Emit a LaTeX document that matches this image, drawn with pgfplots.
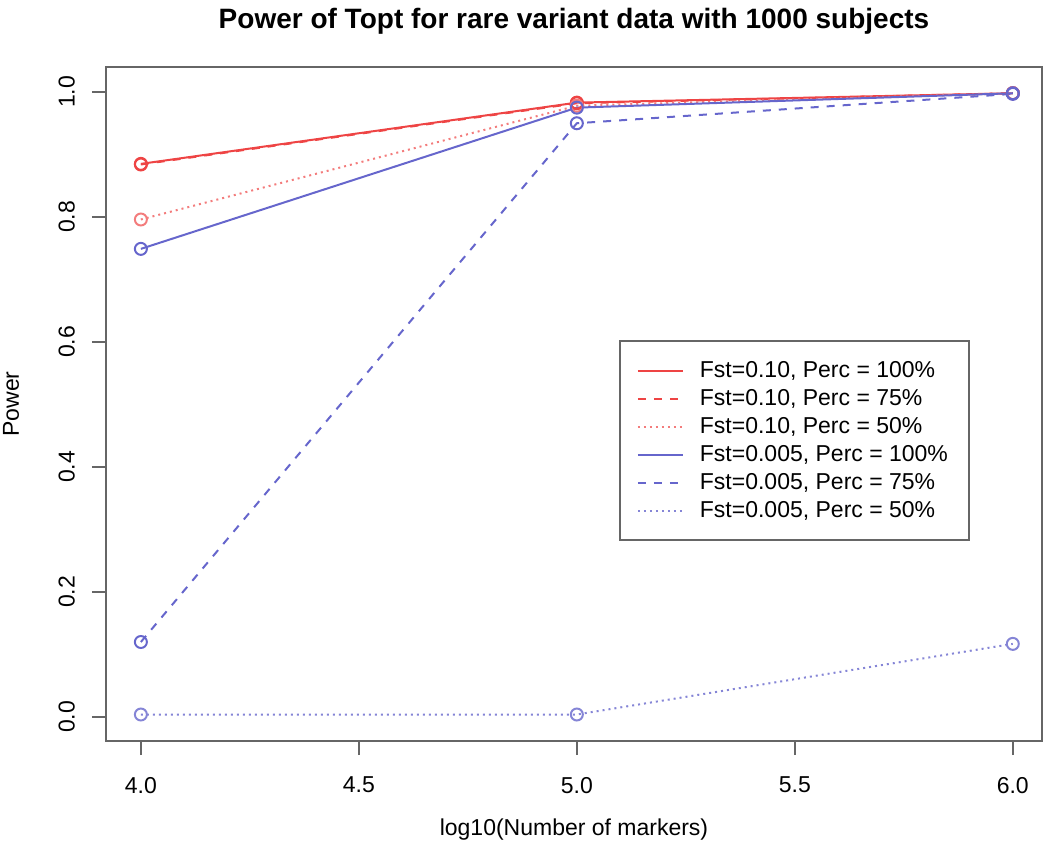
\documentclass[border=0pt]{standalone}
\usepackage{fontspec}
\setmainfont{Liberation Sans}
\usepackage{pgfplots}
\pgfplotsset{compat=1.18}
\definecolor{rred}{HTML}{EE4444}
\definecolor{rblue}{HTML}{6666CC}
\definecolor{boxgray}{HTML}{666666}
\begin{document}
\begin{tikzpicture}
\begin{axis}[
    at={(0pt,0pt)}, anchor=south west,
    scale only axis, width=468pt, height=337pt,
    xmin=3.92, xmax=6.067, ymin=-0.0384, ymax=1.04,
    xtick={4,4.5,5,5.5,6}, ytick={0,0.2,0.4,0.6,0.8,1},
    /pgf/number format/assume math mode=true,
    /pgf/number format/.cd, fixed, fixed zerofill, precision=1, /pgfplots/.cd,
    tick label style={font=\fontsize{11.5}{13}\selectfont},
    yticklabel style={rotate=90, anchor=south},
    xticklabel shift=7.5pt, yticklabel shift=5pt,
    tick align=outside, xtick pos=left, ytick pos=left,
    major tick length=7pt,
    axis line style={line width=1.2pt, color=boxgray},
    tick style={line width=1.2pt, color=boxgray},
    title={Power of Topt for rare variant data with 1000 subjects},
    title style={at={(axis description cs:0.5,1.0504)}, anchor=center,
        font=\bfseries\fontsize{14}{16}\selectfont},
    xlabel={log10(Number of markers)},
    xlabel style={at={(axis description cs:0.5,-0.132)}, anchor=center,
        font=\fontsize{11.5}{13}\selectfont},
    ylabel={Power},
    ylabel style={at={(axis description cs:-0.1015,0.5)}, anchor=center, rotate=0,
        font=\fontsize{11.5}{13}\selectfont},
    legend cell align=left,
    legend style={at={(0.548,0.595)}, anchor=north west, draw=boxgray, line width=1pt,
        inner xsep=8.5pt, inner ysep=8pt, column sep=6pt, row sep=0.5pt,
        font=\fontsize{11.5}{13}\selectfont},
    legend image code/.code={\draw[#1] (0pt,0pt) -- (22.5pt,0pt);},
    every axis plot/.append style={line width=1pt, mark=o, mark size=3pt},
]
\addplot[rred, solid, mark options={solid, fill=white}] coordinates {(4,0.885) (5,0.983) (6,0.998)};
\addlegendentry{Fst=0.10, Perc = 100\%}
\addplot[rred, dash pattern=on 4pt off 4pt, mark options={solid, fill=white}] coordinates {(4,0.884) (5,0.982) (6,0.998)};
\addlegendentry{Fst=0.10, Perc = 75\%}
\addplot[rred!70, dash pattern=on 1pt off 2pt, mark options={solid, fill=white}] coordinates {(4,0.796) (5,0.978) (6,0.998)};
\addlegendentry{Fst=0.10, Perc = 50\%}
\addplot[rblue, solid, mark options={solid, fill=white}] coordinates {(4,0.749) (5,0.975) (6,0.998)};
\addlegendentry{Fst=0.005, Perc = 100\%}
\addplot[rblue, dash pattern=on 4pt off 4pt, mark options={solid, fill=white}] coordinates {(4,0.120) (5,0.950) (6,0.997)};
\addlegendentry{Fst=0.005, Perc = 75\%}
\addplot[rblue!80, dash pattern=on 1pt off 2pt, mark options={solid, fill=white}] coordinates {(4,0.004) (5,0.004) (6,0.117)};
\addlegendentry{Fst=0.005, Perc = 50\%}
\end{axis}
\pgfresetboundingbox
\path (-53pt,-55.5pt) rectangle (472pt,370.5pt);
\end{tikzpicture}
\end{document}
